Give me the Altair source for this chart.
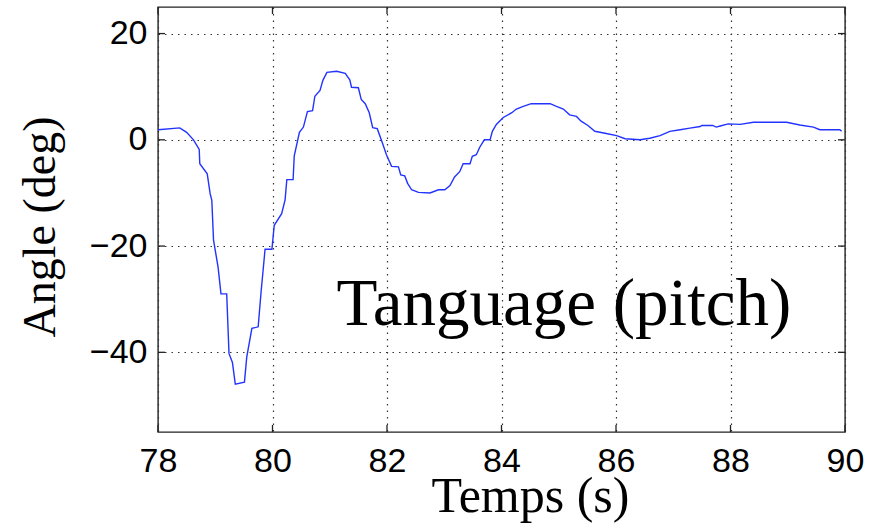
import altair as alt
import pandas as pd

# Pitch angle trace (time in s, angle in deg)
t = [78.0, 78.38, 78.5, 78.62, 78.72, 78.73, 78.86, 78.91, 78.94, 78.97, 79.05, 79.1, 79.2, 79.24, 79.3,
     79.35, 79.51, 79.55, 79.64, 79.75, 79.8, 79.87, 79.99, 80.03, 80.16, 80.22, 80.25, 80.36, 80.38, 80.47,
     80.54, 80.61, 80.7, 80.74, 80.83, 80.88, 80.95, 81.12, 81.27, 81.35, 81.38, 81.5, 81.55, 81.62, 81.69,
     81.75, 81.83, 81.92, 81.99, 82.08, 82.2, 82.24, 82.31, 82.36, 82.43, 82.55, 82.75, 82.9, 83.01, 83.1,
     83.18, 83.27, 83.33, 83.45, 83.49, 83.56, 83.62, 83.7, 83.8, 83.84, 83.91, 84.03, 84.18, 84.26, 84.38,
     84.52, 84.85, 84.96, 85.08, 85.19, 85.31, 85.39, 85.51, 85.63, 85.83, 86.01, 86.16, 86.42, 86.59, 86.77,
     86.94, 87.12, 87.29, 87.47, 87.5, 87.69, 87.75, 87.82, 87.96, 88.17, 88.4, 88.98, 89.21, 89.45, 89.56,
     89.91, 89.94]
angle = [1.9, 2.25, 1.4, 0.0, -1.8, -4.5, -6.4, -10.1, -11.4, -18.9, -24.0, -29.0, -29.0, -40.2, -41.9,
         -46.0, -45.6, -40.9, -35.5, -35.2, -28.7, -20.6, -20.6, -16.1, -13.9, -11.3, -7.5, -7.5, -3.0, 1.4,
         2.4, 5.3, 5.5, 8.2, 9.3, 11.2, 12.7, 12.9, 12.5, 11.3, 9.9, 9.8, 7.6, 6.8, 5.1,
         2.3, 2.1, -0.6, -2.8, -5.0, -5.1, -6.6, -6.8, -8.2, -9.4, -9.9, -10.0, -9.4, -9.4, -8.6,
         -7.0, -6.0, -4.5, -4.5, -3.1, -2.8, -1.4, 0.0, 0.0, 1.6, 2.9, 4.2, 5.1, 5.8, 6.3,
         6.8, 6.8, 6.3, 5.8, 4.7, 4.4, 3.5, 2.7, 1.6, 1.2, 0.8, 0.2, 0.0, 0.3, 0.8,
         1.6, 1.9, 2.2, 2.5, 2.7, 2.7, 2.4, 2.6, 3.0, 2.9, 3.3, 3.3, 2.8, 2.4, 1.9,
         1.9, 1.6]

x_ticks = [78, 80, 82, 84, 86, 88, 90]
y_ticks = [-40, -20, 0, 20]
x_domain = [78, 90]
y_domain = [-55, 25]

label_text = ["Tanguage (pitch)"]
label_t = [85.09]
label_angle = [-34.9]

W, H = 687, 425

df = pd.DataFrame({"t": t, "angle": angle})
xt = pd.DataFrame({"xt": x_ticks})
yt = pd.DataFrame({"yt": y_ticks})
lab = pd.DataFrame({"t": label_t, "angle": label_angle, "txt": label_text})

xs = alt.Scale(domain=x_domain, nice=False, zero=False)
ys = alt.Scale(domain=y_domain, nice=False, zero=False)

line = alt.Chart(df).mark_line(color="#2233ff", strokeWidth=1.4).encode(
    x=alt.X("t:Q", scale=xs, axis=alt.Axis(
        values=x_ticks, title="Temps (s)", grid=True, ticks=False, domain=False,
        labelPadding=12, labelFlush=False,
        titleX=372, titleY=79, titleAlign="center", titleBaseline="alphabetic",
        titleFont="Liberation Serif", titleFontSize=50, titleFontWeight="normal")),
    y=alt.Y("angle:Q", scale=ys, axis=alt.Axis(
        values=y_ticks, title="Angle (deg)", grid=True, ticks=False, domain=False,
        labelPadding=11, labelFlush=False,
        titleAngle=270, titleX=-104, titleY=219.5, titleAlign="center", titleBaseline="alphabetic",
        titleFont="Liberation Serif", titleFontSize=46, titleFontWeight="normal")),
)

tick_color = "#222222"
bottom_ticks = alt.Chart(xt).mark_rule(color=tick_color, strokeWidth=1.3).encode(
    x=alt.X("xt:Q", scale=xs, axis=None), y=alt.value(H), y2=alt.value(H - 7))
top_ticks = alt.Chart(xt).mark_rule(color=tick_color, strokeWidth=1.3).encode(
    x=alt.X("xt:Q", scale=xs, axis=None), y=alt.value(0), y2=alt.value(7))
left_ticks = alt.Chart(yt).mark_rule(color=tick_color, strokeWidth=1.3).encode(
    y=alt.Y("yt:Q", scale=ys, axis=None), x=alt.value(0), x2=alt.value(7))
right_ticks = alt.Chart(yt).mark_rule(color=tick_color, strokeWidth=1.3).encode(
    y=alt.Y("yt:Q", scale=ys, axis=None), x=alt.value(W), x2=alt.value(W - 7))

text = alt.Chart(lab).mark_text(
    font="Liberation Serif", fontSize=67, color="black", align="center", baseline="alphabetic"
).encode(
    x=alt.X("t:Q", scale=xs, axis=None),
    y=alt.Y("angle:Q", scale=ys, axis=None),
    text="txt:N",
)

chart = alt.layer(line, bottom_ticks, top_ticks, left_ticks, right_ticks, text).resolve_axis(
    x="independent", y="independent"
).properties(
    width=W, height=H,
    autosize=alt.AutoSizeParams(type="none"),
    padding={"left": 158, "top": 7, "right": 27, "bottom": 92},
    background="white",
).configure_view(
    stroke="#222222", strokeWidth=1.4
).configure_axis(
    labelFont="Liberation Sans", labelFontSize=34, labelColor="black",
    gridColor="#333333", gridDash=[1.5, 5], gridWidth=1.2, gridOpacity=1,
    titleColor="black",
)

chart.save("out.html", embed_options={"renderer": "svg", "actions": False})
